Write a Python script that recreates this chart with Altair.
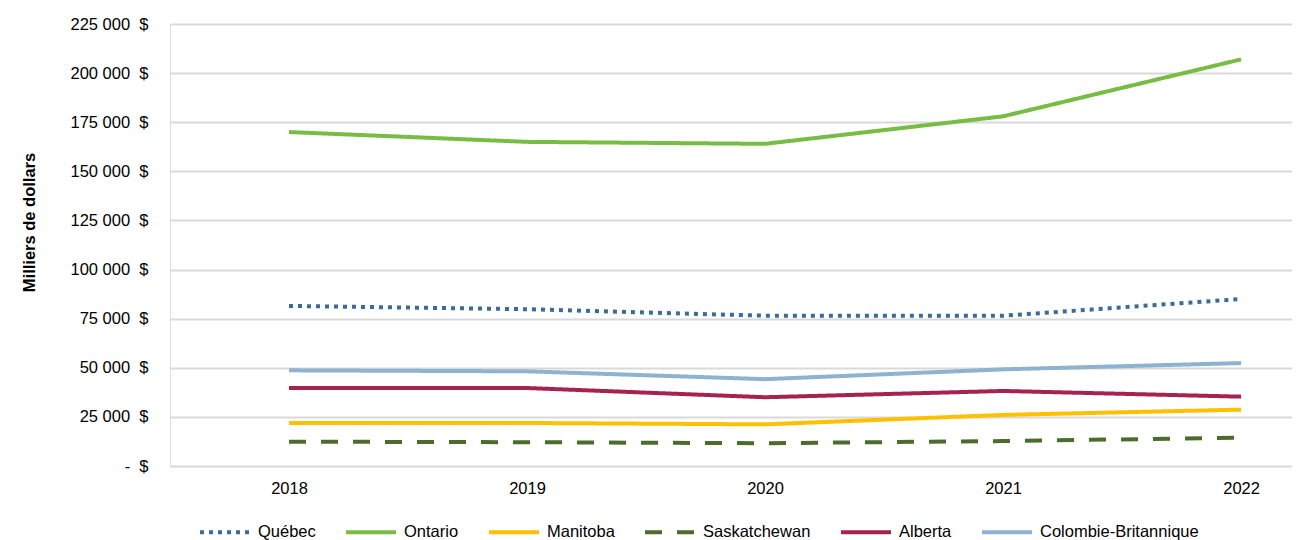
import altair as alt
import pandas as pd

years = [2018, 2019, 2020, 2021, 2022]
series = ["Québec", "Ontario", "Manitoba", "Saskatchewan", "Alberta", "Colombie-Britannique"]
quebec = [81500, 79800, 76500, 76500, 85000]
ontario = [170000, 165000, 164000, 178000, 207000]
manitoba = [21900, 21900, 21200, 26000, 28700]
saskatchewan = [12400, 12100, 11600, 12700, 14400]
alberta = [39700, 39700, 35000, 38200, 35300]
colombie = [48700, 48200, 44200, 49200, 52400]
y_ticks = [0, 25000, 50000, 75000, 100000, 125000, 150000, 175000, 200000, 225000]

colors = ["#3B6B96", "#77BC43", "#FFC000", "#4C6C2B", "#A6234F", "#8DB3D0"]
dashes = [[4, 5], [1, 0], [1, 0], [17, 15], [1, 0], [1, 0]]

values = [quebec, ontario, manitoba, saskatchewan, alberta, colombie]
rows = []
for name, vals in zip(series, values):
    for yr, v in zip(years, vals):
        rows.append({"Année": yr, "Valeur": v, "Province": name})
df = pd.DataFrame(rows)

FONT = "Liberation Sans"
FS = 16.5
NB = "\u00a0"
label_expr = (
    "datum.value == 0 ? '-" + NB * 2 + "$' : "
    "replace(format(datum.value, ','), ',', ' ') + '" + NB * 2 + "$'"
)

def legend():
    return alt.Legend(title=None, orient="none", direction="horizontal",
                      legendX=28, legendY=481, symbolType="stroke",
                      symbolSize=2500, symbolStrokeWidth=4,
                      labelFontSize=FS, labelFont=FONT,
                      labelColor="#000000", labelOffset=6,
                      columnPadding=22, columns=6)

chart = alt.Chart(df).mark_line(strokeWidth=4, strokeJoin="round").encode(
    x=alt.X("Année:Q",
            scale=alt.Scale(domain=[2017.5, 2022.214], nice=False, zero=False),
            axis=alt.Axis(values=years, format="d", title=None, grid=False,
                          ticks=False, domain=False, labelFontSize=FS,
                          labelFont=FONT, labelColor="#000000", labelPadding=14)),
    y=alt.Y("Valeur:Q",
            scale=alt.Scale(domain=[0, 225000], nice=False),
            axis=alt.Axis(values=y_ticks, title="Milliers de dollars",
                          labelExpr=label_expr,
                          grid=True, gridColor="#D9D9D9", gridWidth=2,
                          ticks=False, domain=False, labelFontSize=FS,
                          labelFont=FONT, labelColor="#000000", labelPadding=22,
                          titleFont=FONT, titleFontSize=FS, titleFontWeight="bold",
                          titleColor="#000000", titleAngle=-90, titleX=-141, titleY=198,
                          titleAlign="center", titleBaseline="middle")),
    color=alt.Color("Province:N",
                    scale=alt.Scale(domain=series, range=colors),
                    legend=legend()),
    strokeDash=alt.StrokeDash("Province:N",
                              scale=alt.Scale(domain=series, range=dashes),
                              legend=legend()),
).properties(
    width=1122, height=442,
    autosize=alt.AutoSizeParams(type="none"),
    padding={"left": 162, "top": 16, "right": 0, "bottom": 74},
).configure_view(stroke=None).configure(background="white")

chart.save("out.html", embed_options={"renderer": "svg", "actions": False})
